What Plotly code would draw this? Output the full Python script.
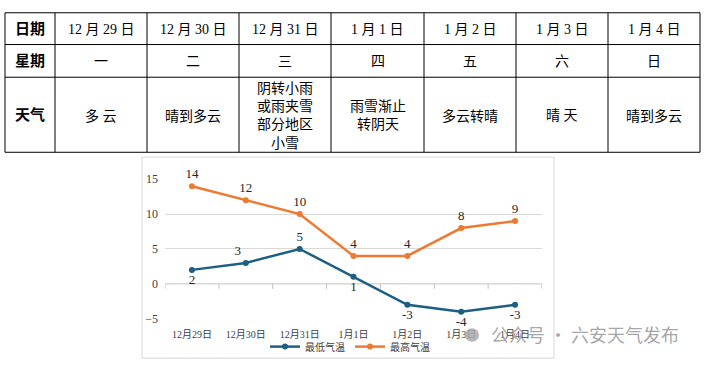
import plotly.graph_objects as go

W, H = 706, 369

# ---------------- data ----------------
dates = ["12月29日", "12月30日", "12月31日", "1月1日", "1月2日", "1月3日", "1月4日"]
table_dates = ["12 月 29 日", "12 月 30 日", "12 月 31 日", "1 月 1 日", "1 月 2 日", "1 月 3 日", "1 月 4 日"]
weekdays = ["一", "二", "三", "四", "五", "六", "日"]
weather = ["多 云", "晴到多云", "阴转小雨<br>或雨夹雪<br>部分地区<br>小雪", "雨雪渐止<br>转阴天",
           "多云转晴", "晴 天", "晴到多云"]
row_titles = ["日期", "星期", "天气"]
low_temp = [2, 3, 5, 1, -3, -4, -3]
high_temp = [14, 12, 10, 4, 4, 8, 9]
low_name = "最低气温"
high_name = "最高气温"
watermark = "公众号 · 六安天气发布"

# ---------------- layout helpers (pixels -> paper) ----------------
def px(x):
    return x / W

def py(y):
    return 1 - y / H

col_edges = [5, 55, 147, 239, 331, 424, 516, 608, 700]
row_edges = [6, 39, 73, 151]

SERIF_CJK = "Liberation Serif, Noto Sans CJK SC, serif"
BLUE = "#1c5f82"
ORANGE = "#ee7a32"

fig = go.Figure()

low_pos = ["bottom center", "top left", "top center", "bottom center",
           "bottom center", "bottom center", "bottom center"]
high_pos = ["top center"] * len(high_temp)

fig.add_trace(go.Scatter(
    x=dates, y=low_temp, name=low_name, mode="lines+markers+text",
    line=dict(color=BLUE, width=2.5), marker=dict(color=BLUE, size=6),
    text=[str(v) for v in low_temp], textposition=low_pos,
    textfont=dict(family="Liberation Serif, serif", size=13, color="#262626"),
    cliponaxis=False,
))
fig.add_trace(go.Scatter(
    x=dates, y=high_temp, name=high_name, mode="lines+markers+text",
    line=dict(color=ORANGE, width=2.5), marker=dict(color=ORANGE, size=6),
    text=[str(v) for v in high_temp], textposition=high_pos,
    textfont=dict(family="Liberation Serif, serif", size=13, color="#262626"),
    cliponaxis=False,
))

shapes = []
annotations = []

# table grid
for x in col_edges:
    shapes.append(dict(type="line", xref="paper", yref="paper",
                       x0=px(x), x1=px(x), y0=py(row_edges[0]), y1=py(row_edges[-1]),
                       line=dict(color="black", width=1)))
for y in row_edges:
    shapes.append(dict(type="line", xref="paper", yref="paper",
                       x0=px(col_edges[0]), x1=px(col_edges[-1]), y0=py(y), y1=py(y),
                       line=dict(color="black", width=1)))

row_centers = [(row_edges[i] + row_edges[i + 1]) / 2 for i in range(3)]
col_centers = [(col_edges[i] + col_edges[i + 1]) / 2 for i in range(len(col_edges) - 1)]

for r, title in enumerate(row_titles):
    annotations.append(dict(text="<b>%s</b>" % title, xref="paper", yref="paper",
                            x=px(col_centers[0]), y=py(row_centers[r]),
                            showarrow=False, xanchor="center", yanchor="middle",
                            font=dict(family=SERIF_CJK, size=15, color="black")))
rows = [table_dates, weekdays, weather]
for r, vals in enumerate(rows):
    for c, v in enumerate(vals):
        annotations.append(dict(text=v, xref="paper", yref="paper",
                                x=px(col_centers[c + 1]), y=py(row_centers[r] + 1),
                                showarrow=False, xanchor="center", yanchor="middle",
                                font=dict(family=SERIF_CJK, size=14, color="black")))

# chart frame
shapes.append(dict(type="rect", xref="paper", yref="paper",
                   x0=px(142), x1=px(554), y0=py(365), y1=py(156),
                   line=dict(color="#d9d9d9", width=1), layer="below"))

# zero axis line with ticks at category boundaries
shapes.append(dict(type="line", xref="x", yref="y", x0=-0.5, x1=len(dates) - 0.5, y0=0, y1=0,
                   line=dict(color="#bfbfbf", width=1), layer="below"))
for i in range(len(dates) + 1):
    shapes.append(dict(type="line", xref="x", yref="y", ysizemode="pixel", yanchor=0,
                       x0=i - 0.5, x1=i - 0.5, y0=0, y1=-5,
                       line=dict(color="#bfbfbf", width=1), layer="below"))

# watermark
shapes.append(dict(type="circle", xref="paper", yref="paper",
                   x0=px(465), x1=px(479), y0=py(348), y1=py(334),
                   fillcolor="rgba(170,170,170,0.85)", line=dict(width=0)))
annotations.append(dict(text=watermark, xref="paper", yref="paper",
                        x=px(585), y=py(340), showarrow=False,
                        xanchor="center", yanchor="middle",
                        font=dict(family="Noto Sans CJK SC", size=18, color="rgba(150,150,150,0.85)")))

fig.update_layout(
    width=W, height=H,
    margin=dict(l=0, r=0, t=0, b=0),
    paper_bgcolor="white", plot_bgcolor="white",
    showlegend=True,
    legend=dict(orientation="h", x=px(350), xanchor="center", y=py(353), yanchor="middle",
                font=dict(family=SERIF_CJK, size=10, color="#404040"),
                itemwidth=30, bgcolor="rgba(0,0,0,0)", tracegroupgap=0),
    xaxis=dict(domain=[px(165), px(542)], type="category", range=[-0.5, len(dates) - 0.5],
               showgrid=False, showline=False, ticks="", zeroline=False,
               ticklabelstandoff=8,
               tickfont=dict(family=SERIF_CJK, size=10, color="#404040")),
    yaxis=dict(domain=[py(324), py(179)], range=[-5, 15], tickvals=[-5, 0, 5, 10, 15],
               showgrid=True, gridcolor="#d9d9d9", gridwidth=1, zeroline=False,
               showline=False, ticks="", ticklabelstandoff=6,
               tickfont=dict(family="Liberation Serif, serif", size=12, color="#404040")),
    shapes=shapes,
    annotations=annotations,
)

fig.write_html("out.html", config={"displayModeBar": False},
               post_script="document.body.style.margin='0';document.body.style.overflow='hidden';")
